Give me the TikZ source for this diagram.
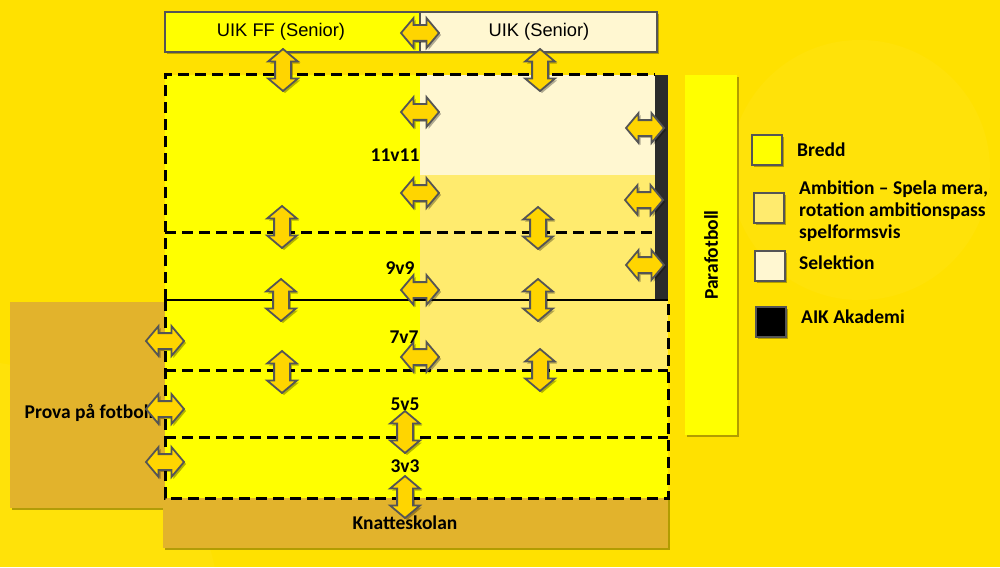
\documentclass[tikz,border=0pt]{standalone}
\usepackage{fontspec}
\setmainfont{Liberation Sans}
\newfontfamily\calfont{Carlito}
\usetikzlibrary{shapes.arrows,shadows}
\definecolor{bg}{HTML}{FFE100}
\definecolor{yel}{HTML}{FFFF00}
\definecolor{cream}{HTML}{FFF7D1}
\definecolor{amb}{HTML}{FFEB6E}
\definecolor{goldbox}{HTML}{E2B32C}
\definecolor{arrowfill}{HTML}{FFD500}
\definecolor{edge}{HTML}{555555}
\definecolor{barc}{HTML}{2B2B2B}
\tikzset{
  shadowed/.style={drop shadow={shadow xshift=2pt,shadow yshift=-2pt,opacity=0.3,fill=black}},
  harr/.style={double arrow, draw=edge, fill=arrowfill, line width=1.8pt, inner sep=0pt,
    inner ysep=7pt, double arrow head extend=7pt, double arrow tip angle=100,
    minimum height=38pt, shadowed},
  varr/.style={harr, rotate=90, minimum height=42pt},
  dashln/.style={draw=black, line width=3pt, dash pattern=on 11pt off 6pt},
  topbox/.style={draw=edge, line width=1.8pt, minimum height=40pt, inner sep=0pt, shadowed},
  toptx/.style={font=\fontsize{18.3}{21}\selectfont, inner sep=0pt},
  gbox/.style={fill=goldbox, inner sep=0pt, anchor=north west, shadowed},
  lbl/.style={font=\calfont\bfseries\fontsize{19.5}{22}\selectfont, inner sep=0pt},
  legsq/.style={draw=edge, line width=2.2pt, minimum width=30pt, minimum height=30pt, inner sep=0pt, shadowed},
  legtx/.style={font=\calfont\bfseries\fontsize{19.5}{22}\selectfont, inner sep=0pt, anchor=west, align=left},
}
\begin{document}
\begin{tikzpicture}[x=1pt,y=-1pt]
\fill[bg] (0,0) rectangle (1000,567);
\useasboundingbox (0,0) rectangle (1000,567);
\fill[white,opacity=0.035] (860,170) circle (130);
\fill[white,opacity=0.035] (-40,620) circle (260);

% side and bottom boxes
\node[gbox, minimum width=155pt, minimum height=206pt] (prova) at (10,302) {};
\node[gbox, minimum width=505pt, minimum height=50pt] (knatte) at (163,498) {};
\node[gbox, fill=yel, minimum width=52pt, minimum height=360pt] (para) at (685,75) {};

% region fills
\fill[yel] (165,75) rectangle (420,498);
\fill[cream] (420,75) rectangle (655,175);
\fill[amb] (420,175) rectangle (655,300);
\fill[amb] (420,300) rectangle (668,370);
\fill[yel] (420,370) rectangle (668,498);
\fill[barc] (655,75) rectangle (668,300);

% dashed borders
\draw[dashln] (165,300) -- (165,75) -- (655,75);
\draw[dashln] (165,232) -- (655,232);
\draw[dashln] (165,300) -- (165,498) -- (668,498) -- (668,300);
\draw[dashln] (165,370) -- (668,370);
\draw[dashln] (165,437) -- (668,437);
\draw[black, line width=2.5pt] (165,300) -- (668,300);

% top boxes
\node[topbox, fill=yel, minimum width=255pt] (uikff) at (292.5,32) {};
\node[topbox, fill=cream, minimum width=237pt] (uik) at (538.5,32) {};
\node[toptx] (uikfft) at (281,32) {UIK FF (Senior)};
\node[toptx] (uikt) at (539,32) {UIK (Senior)};

% labels
\node[lbl] (l11) at (395,155) {11v11};
\node[lbl] (l9) at (400,268) {9v9};
\node[lbl] (l7) at (404,337) {7v7};
\node[lbl] (l5) at (405,404) {5v5};
\node[lbl] (l3) at (405,466) {3v3};
\node[lbl] (lknatte) at (405,523) {Knatteskolan};
\node[lbl] (lprova) at (89,413) {Prova på fotboll};
\node[lbl, rotate=90] (lpara) at (711,255) {Parafotboll};

% arrows
\node[harr] (a1) at (420,33) {};
\node[harr] (a2) at (420,112) {};
\node[harr] (a3) at (420,193) {};
\node[harr] (a4) at (645,128) {};
\node[harr] (a5) at (644,200) {};
\node[harr] (a6) at (645,265) {};
\node[harr] (a7) at (420,290) {};
\node[harr] (a8) at (165,341) {};
\node[harr] (a9) at (420,357) {};
\node[harr] (a10) at (165,409) {};
\node[harr] (a11) at (165,462) {};
\node[varr] (a12) at (283,70) {};
\node[varr] (a13) at (540,70) {};
\node[varr] (a14) at (282,227) {};
\node[varr] (a15) at (538,228) {};
\node[varr] (a16) at (281,300) {};
\node[varr] (a17) at (538,300) {};
\node[varr] (a18) at (282,372) {};
\node[varr] (a19) at (540,370) {};
\node[varr] (a20) at (405,432) {};
\node[varr] (a21) at (405,497) {};

% legend
\node[legsq, fill=yel] (sq1) at (767,150) {};
\node[legsq, fill=amb] (sq2) at (769,208) {};
\node[legsq, fill=cream] (sq3) at (770,266) {};
\node[legsq, fill=black] (sq4) at (771,322) {};
\node[legtx] (t1) at (797,150) {Bredd};
\node[legtx] (t2) at (799,211) {Ambition – Spela mera,\\rotation ambitionspass\\spelformsvis};
\node[legtx] (t3) at (799,263) {Selektion};
\node[legtx] (t4) at (801,317) {AIK Akademi};
\end{tikzpicture}
\end{document}
